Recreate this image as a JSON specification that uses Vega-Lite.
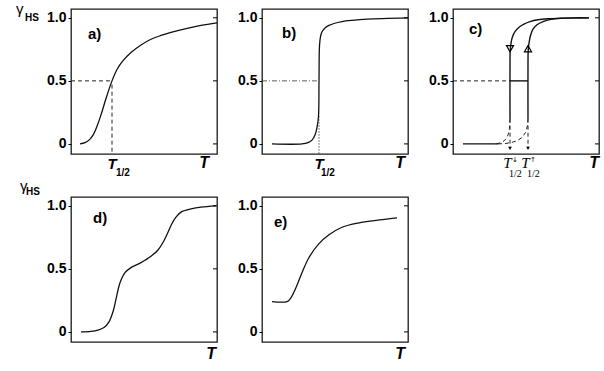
{
  "$schema": "https://vega.github.io/schema/vega-lite/v6.json",
  "padding": {"left": 15, "top": 1, "right": 0, "bottom": 0},
  "background": "white",
  "config": {
    "view": {"stroke": "#1a1a1a", "strokeWidth": 1.3},
    "font": "Liberation Sans",
    "line": {"color": "#111"},
    "text": {"color": "#000", "font": "Liberation Sans"},
    "axisY": {"labelExpr": "datum.value == 0 ? '0' : format(datum.value, '.1f')", "labelFont": "Liberation Sans", "labelFontWeight": "bold", "labelFontSize": 14, "labelColor": "#000", "tickSize": 3, "tickColor": "#000", "labelPadding": 2, "domain": false, "grid": false, "title": null}
  },
  "data": {"values": [
    {"p":"a","k":"solid","s":"a1","i":0,"x":9,"y":0},
    {"p":"a","k":"solid","s":"a1","i":1,"x":14,"y":0.01},
    {"p":"a","k":"solid","s":"a1","i":2,"x":18,"y":0.03},
    {"p":"a","k":"solid","s":"a1","i":3,"x":22,"y":0.07},
    {"p":"a","k":"solid","s":"a1","i":4,"x":26,"y":0.14},
    {"p":"a","k":"solid","s":"a1","i":5,"x":30,"y":0.23},
    {"p":"a","k":"solid","s":"a1","i":6,"x":35,"y":0.36},
    {"p":"a","k":"solid","s":"a1","i":7,"x":41,"y":0.5},
    {"p":"a","k":"solid","s":"a1","i":8,"x":46,"y":0.59},
    {"p":"a","k":"solid","s":"a1","i":9,"x":52,"y":0.66},
    {"p":"a","k":"solid","s":"a1","i":10,"x":60,"y":0.725},
    {"p":"a","k":"solid","s":"a1","i":11,"x":70,"y":0.785},
    {"p":"a","k":"solid","s":"a1","i":12,"x":80,"y":0.83},
    {"p":"a","k":"solid","s":"a1","i":13,"x":90,"y":0.86},
    {"p":"a","k":"solid","s":"a1","i":14,"x":100,"y":0.885},
    {"p":"a","k":"solid","s":"a1","i":15,"x":115,"y":0.915},
    {"p":"a","k":"solid","s":"a1","i":16,"x":130,"y":0.94},
    {"p":"a","k":"solid","s":"a1","i":17,"x":146,"y":0.96},
    {"p":"a","k":"dash","s":"a2","i":0,"x":0,"y":0.5},
    {"p":"a","k":"dash","s":"a2","i":1,"x":41,"y":0.5},
    {"p":"a","k":"dash","s":"a3","i":0,"x":41,"y":0.47},
    {"p":"a","k":"dash","s":"a3","i":1,"x":41,"y":-0.08},

    {"p":"b","k":"solid","s":"b1","i":0,"x":10,"y":0},
    {"p":"b","k":"solid","s":"b1","i":1,"x":40,"y":0},
    {"p":"b","k":"solid","s":"b1","i":2,"x":46,"y":0.01},
    {"p":"b","k":"solid","s":"b1","i":3,"x":50,"y":0.03},
    {"p":"b","k":"solid","s":"b1","i":4,"x":53,"y":0.07},
    {"p":"b","k":"solid","s":"b1","i":5,"x":55,"y":0.13},
    {"p":"b","k":"solid","s":"b1","i":6,"x":56.5,"y":0.22},
    {"p":"b","k":"solid","s":"b1","i":7,"x":57,"y":0.5},
    {"p":"b","k":"solid","s":"b1","i":8,"x":57.5,"y":0.78},
    {"p":"b","k":"solid","s":"b1","i":9,"x":58.5,"y":0.85},
    {"p":"b","k":"solid","s":"b1","i":10,"x":60,"y":0.89},
    {"p":"b","k":"solid","s":"b1","i":11,"x":63,"y":0.92},
    {"p":"b","k":"solid","s":"b1","i":12,"x":67,"y":0.94},
    {"p":"b","k":"solid","s":"b1","i":13,"x":72,"y":0.955},
    {"p":"b","k":"solid","s":"b1","i":14,"x":80,"y":0.97},
    {"p":"b","k":"solid","s":"b1","i":15,"x":90,"y":0.98},
    {"p":"b","k":"solid","s":"b1","i":16,"x":105,"y":0.99},
    {"p":"b","k":"solid","s":"b1","i":17,"x":146,"y":1.0},
    {"p":"b","k":"dashdot","s":"b2","i":0,"x":0,"y":0.5},
    {"p":"b","k":"dashdot","s":"b2","i":1,"x":57,"y":0.5},
    {"p":"b","k":"dot","s":"b3","i":0,"x":57,"y":0.22},
    {"p":"b","k":"dot","s":"b3","i":1,"x":57,"y":-0.08},

    {"p":"c","k":"solid","s":"c1","i":0,"x":136,"y":1.0},
    {"p":"c","k":"solid","s":"c1","i":1,"x":110,"y":0.998},
    {"p":"c","k":"solid","s":"c1","i":2,"x":95,"y":0.993},
    {"p":"c","k":"solid","s":"c1","i":3,"x":85,"y":0.985},
    {"p":"c","k":"solid","s":"c1","i":4,"x":77,"y":0.97},
    {"p":"c","k":"solid","s":"c1","i":5,"x":71,"y":0.95},
    {"p":"c","k":"solid","s":"c1","i":6,"x":66,"y":0.925},
    {"p":"c","k":"solid","s":"c1","i":7,"x":62,"y":0.89},
    {"p":"c","k":"solid","s":"c1","i":8,"x":59.5,"y":0.85},
    {"p":"c","k":"solid","s":"c1","i":9,"x":58,"y":0.8},
    {"p":"c","k":"solid","s":"c1","i":10,"x":57.2,"y":0.74},
    {"p":"c","k":"solid","s":"c1","i":11,"x":57,"y":0.65},
    {"p":"c","k":"solid","s":"c1","i":12,"x":57,"y":0.2},
    {"p":"c","k":"dash","s":"c2","i":0,"x":57,"y":0.2},
    {"p":"c","k":"dash","s":"c2","i":1,"x":56.5,"y":0.12},
    {"p":"c","k":"dash","s":"c2","i":2,"x":55,"y":0.07},
    {"p":"c","k":"dash","s":"c2","i":3,"x":52.5,"y":0.035},
    {"p":"c","k":"dash","s":"c2","i":4,"x":49,"y":0.012},
    {"p":"c","k":"dash","s":"c2","i":5,"x":44,"y":0.002},
    {"p":"c","k":"dash","s":"c2","i":6,"x":40,"y":0},
    {"p":"c","k":"solid","s":"c3","i":0,"x":10,"y":0},
    {"p":"c","k":"solid","s":"c3","i":1,"x":45,"y":0},
    {"p":"c","k":"dash","s":"c4","i":0,"x":45,"y":0},
    {"p":"c","k":"dash","s":"c4","i":1,"x":52,"y":0.003},
    {"p":"c","k":"dash","s":"c4","i":2,"x":58,"y":0.01},
    {"p":"c","k":"dash","s":"c4","i":3,"x":64,"y":0.025},
    {"p":"c","k":"dash","s":"c4","i":4,"x":69,"y":0.05},
    {"p":"c","k":"dash","s":"c4","i":5,"x":72.5,"y":0.09},
    {"p":"c","k":"dash","s":"c4","i":6,"x":74.3,"y":0.14},
    {"p":"c","k":"dash","s":"c4","i":7,"x":75,"y":0.2},
    {"p":"c","k":"solid","s":"c5","i":0,"x":75,"y":0.2},
    {"p":"c","k":"solid","s":"c5","i":1,"x":75,"y":0.65},
    {"p":"c","k":"solid","s":"c5","i":2,"x":75.2,"y":0.74},
    {"p":"c","k":"solid","s":"c5","i":3,"x":76,"y":0.8},
    {"p":"c","k":"solid","s":"c5","i":4,"x":77.5,"y":0.86},
    {"p":"c","k":"solid","s":"c5","i":5,"x":80,"y":0.91},
    {"p":"c","k":"solid","s":"c5","i":6,"x":84,"y":0.945},
    {"p":"c","k":"solid","s":"c5","i":7,"x":90,"y":0.97},
    {"p":"c","k":"solid","s":"c5","i":8,"x":98,"y":0.988},
    {"p":"c","k":"solid","s":"c5","i":9,"x":108,"y":0.997},
    {"p":"c","k":"solid","s":"c5","i":10,"x":120,"y":1.0},
    {"p":"c","k":"solid","s":"c5","i":11,"x":136,"y":1.0},
    {"p":"c","k":"dash","s":"c6","i":0,"x":0,"y":0.5},
    {"p":"c","k":"dash","s":"c6","i":1,"x":57,"y":0.5},
    {"p":"c","k":"solid","s":"c7","i":0,"x":57,"y":0.5},
    {"p":"c","k":"solid","s":"c7","i":1,"x":75,"y":0.5},
    {"p":"c","k":"dash","s":"c8","i":0,"x":57,"y":0.2},
    {"p":"c","k":"dash","s":"c8","i":1,"x":57,"y":-0.03},
    {"p":"c","k":"dash","s":"c9","i":0,"x":75,"y":0.2},
    {"p":"c","k":"dash","s":"c9","i":1,"x":75,"y":-0.03},
    {"p":"c","k":"tri","x":57,"y":0.755,"t":"triangle-down"},
    {"p":"c","k":"tri","x":75,"y":0.755,"t":"triangle-up"},
    {"p":"c","k":"arr","x":57,"y":-0.035},
    {"p":"c","k":"arr","x":75,"y":-0.035},

    {"p":"d","k":"solid","s":"d1","i":0,"x":10,"y":0},
    {"p":"d","k":"solid","s":"d1","i":1,"x":20,"y":0.005},
    {"p":"d","k":"solid","s":"d1","i":2,"x":27,"y":0.015},
    {"p":"d","k":"solid","s":"d1","i":3,"x":33,"y":0.035},
    {"p":"d","k":"solid","s":"d1","i":4,"x":38,"y":0.08},
    {"p":"d","k":"solid","s":"d1","i":5,"x":42,"y":0.16},
    {"p":"d","k":"solid","s":"d1","i":6,"x":45,"y":0.26},
    {"p":"d","k":"solid","s":"d1","i":7,"x":49,"y":0.39},
    {"p":"d","k":"solid","s":"d1","i":8,"x":54,"y":0.47},
    {"p":"d","k":"solid","s":"d1","i":9,"x":60,"y":0.51},
    {"p":"d","k":"solid","s":"d1","i":10,"x":70,"y":0.55},
    {"p":"d","k":"solid","s":"d1","i":11,"x":80,"y":0.6},
    {"p":"d","k":"solid","s":"d1","i":12,"x":87,"y":0.65},
    {"p":"d","k":"solid","s":"d1","i":13,"x":92,"y":0.71},
    {"p":"d","k":"solid","s":"d1","i":14,"x":97,"y":0.79},
    {"p":"d","k":"solid","s":"d1","i":15,"x":101,"y":0.86},
    {"p":"d","k":"solid","s":"d1","i":16,"x":105,"y":0.91},
    {"p":"d","k":"solid","s":"d1","i":17,"x":110,"y":0.95},
    {"p":"d","k":"solid","s":"d1","i":18,"x":120,"y":0.975},
    {"p":"d","k":"solid","s":"d1","i":19,"x":130,"y":0.99},
    {"p":"d","k":"solid","s":"d1","i":20,"x":145,"y":1.0},

    {"p":"e","k":"solid","s":"e1","i":0,"x":10,"y":0.24},
    {"p":"e","k":"solid","s":"e1","i":1,"x":25,"y":0.24},
    {"p":"e","k":"solid","s":"e1","i":2,"x":28,"y":0.26},
    {"p":"e","k":"solid","s":"e1","i":3,"x":31,"y":0.3},
    {"p":"e","k":"solid","s":"e1","i":4,"x":35,"y":0.37},
    {"p":"e","k":"solid","s":"e1","i":5,"x":40,"y":0.47},
    {"p":"e","k":"solid","s":"e1","i":6,"x":47,"y":0.59},
    {"p":"e","k":"solid","s":"e1","i":7,"x":57,"y":0.7},
    {"p":"e","k":"solid","s":"e1","i":8,"x":67,"y":0.77},
    {"p":"e","k":"solid","s":"e1","i":9,"x":80,"y":0.83},
    {"p":"e","k":"solid","s":"e1","i":10,"x":97,"y":0.865},
    {"p":"e","k":"solid","s":"e1","i":11,"x":114,"y":0.885},
    {"p":"e","k":"solid","s":"e1","i":12,"x":135,"y":0.905},

    {"p":"a","k":"rt","x":142,"x2":146,"y":0},
    {"p":"a","k":"rt","x":142,"x2":146,"y":0.5},
    {"p":"a","k":"rt","x":142,"x2":146,"y":1},
    {"p":"b","k":"rt","x":142,"x2":146,"y":0},
    {"p":"b","k":"rt","x":142,"x2":146,"y":0.5},
    {"p":"b","k":"rt","x":142,"x2":146,"y":1},
    {"p":"c","k":"rt","x":142,"x2":146,"y":0},
    {"p":"c","k":"rt","x":142,"x2":146,"y":0.5},
    {"p":"c","k":"rt","x":142,"x2":146,"y":1},
    {"p":"d","k":"rt","x":142,"x2":146,"y":0},
    {"p":"d","k":"rt","x":142,"x2":146,"y":0.5},
    {"p":"d","k":"rt","x":142,"x2":146,"y":1},
    {"p":"e","k":"rt","x":142,"x2":146,"y":0},
    {"p":"e","k":"rt","x":142,"x2":146,"y":0.5},
    {"p":"e","k":"rt","x":142,"x2":146,"y":1},

    {"p":"a","k":"lab","x":17,"y":0.87,"t":"a)"},
    {"p":"b","k":"lab","x":20,"y":0.88,"t":"b)"},
    {"p":"c","k":"lab","x":16,"y":0.91,"t":"c)"},
    {"p":"d","k":"lab","x":22,"y":0.9,"t":"d)"},
    {"p":"e","k":"lab","x":12,"y":0.875,"t":"e)"},
    {"p":"a","k":"gam","x":-55,"y":1.03,"t":"γ"},
    {"p":"a","k":"hs","x":-46,"y":0.975,"t":"HS"},
    {"p":"d","k":"gam","x":-51,"y":1.12,"t":"γ"},
    {"p":"d","k":"hs","x":-45,"y":1.085,"t":"HS"},
    {"p":"a","k":"Tb","x":41,"y":-0.2,"t":"T"},
    {"p":"a","k":"sub","x":45,"y":-0.255,"t":"1/2"},
    {"p":"b","k":"Tb","x":57,"y":-0.2,"t":"T"},
    {"p":"b","k":"sub","x":59,"y":-0.255,"t":"1/2"},
    {"p":"a","k":"Tx","x":138,"y":-0.19,"t":"T"},
    {"p":"b","k":"Tx","x":143,"y":-0.19,"t":"T"},
    {"p":"c","k":"Tx","x":146,"y":-0.19,"t":"T"},
    {"p":"d","k":"Tx","x":145,"y":-0.215,"t":"T"},
    {"p":"e","k":"Tx","x":143,"y":-0.215,"t":"T"},
    {"p":"c","k":"Ts","x":54.5,"y":-0.19,"t":"T"},
    {"p":"c","k":"Ts","x":72.5,"y":-0.19,"t":"T"},
    {"p":"c","k":"ssub","x":56,"y":-0.26,"t":"1/2"},
    {"p":"c","k":"ssub","x":74,"y":-0.26,"t":"1/2"},
    {"p":"c","k":"sarr","x":59,"y":-0.14,"t":"↓"},
    {"p":"c","k":"sarr","x":77,"y":-0.14,"t":"↑"}
  ]},
  "columns": 3,
  "spacing": {"row": 43, "column": 45},
  "bounds": "flush",
  "concat": [
    {
      "width": 146, "height": 145,
      "transform": [{"filter": "datum.p == 'a'"}],
      "layer": [
        {"transform": [{"filter": "datum.k == 'solid'"}],
         "mark": {"type": "line", "interpolate": "catmull-rom", "strokeWidth": 1.3},
         "encoding": {
           "x": {"field": "x", "type": "quantitative", "scale": {"domain": [0, 146], "nice": false, "zero": false}, "axis": null},
           "y": {"field": "y", "type": "quantitative", "scale": {"domain": [-0.08, 1.07], "nice": false, "zero": false}, "title": null, "axis": {"values": [0, 0.5, 1]}},
           "detail": {"field": "s"}, "order": {"field": "i"}}},
        {"transform": [{"filter": "datum.k == 'dash'"}],
         "mark": {"type": "line", "color": "#222", "strokeWidth": 1, "strokeDash": [4, 3]},
         "encoding": {"x": {"field": "x", "type": "quantitative", "axis": null}, "y": {"field": "y", "type": "quantitative", "title": null}, "detail": {"field": "s"}, "order": {"field": "i"}}},
        {"transform": [{"filter": "datum.k == 'rt'"}],
         "mark": {"type": "rule", "color": "#000", "strokeWidth": 1},
         "encoding": {"x": {"field": "x", "type": "quantitative", "axis": null}, "x2": {"field": "x2"}, "y": {"field": "y", "type": "quantitative", "title": null}}},
        {"transform": [{"filter": "datum.k == 'lab'"}],
         "mark": {"type": "text", "fontWeight": "bold", "fontSize": 15, "align": "left", "baseline": "middle"},
         "encoding": {"x": {"field": "x", "type": "quantitative", "axis": null}, "y": {"field": "y", "type": "quantitative", "title": null}, "text": {"field": "t"}}},
        {"transform": [{"filter": "datum.k == 'Tx'"}],
         "mark": {"type": "text", "fontWeight": "bold", "fontStyle": "italic", "fontSize": 16, "align": "right", "baseline": "alphabetic"},
         "encoding": {"x": {"field": "x", "type": "quantitative", "axis": null}, "y": {"field": "y", "type": "quantitative", "title": null}, "text": {"field": "t"}}},
        {"transform": [{"filter": "datum.k == 'gam'"}],
         "mark": {"type": "text", "fontSize": 15, "align": "left", "baseline": "alphabetic"},
         "encoding": {"x": {"field": "x", "type": "quantitative", "axis": null}, "y": {"field": "y", "type": "quantitative", "title": null}, "text": {"field": "t"}}},
        {"transform": [{"filter": "datum.k == 'hs'"}],
         "mark": {"type": "text", "fontWeight": "bold", "fontSize": 10, "align": "left", "baseline": "alphabetic"},
         "encoding": {"x": {"field": "x", "type": "quantitative", "axis": null}, "y": {"field": "y", "type": "quantitative", "title": null}, "text": {"field": "t"}}},
        {"transform": [{"filter": "datum.k == 'Tb'"}],
         "mark": {"type": "text", "fontWeight": "bold", "fontStyle": "italic", "fontSize": 15, "align": "center", "baseline": "alphabetic"},
         "encoding": {"x": {"field": "x", "type": "quantitative", "axis": null}, "y": {"field": "y", "type": "quantitative", "title": null}, "text": {"field": "t"}}},
        {"transform": [{"filter": "datum.k == 'sub'"}],
         "mark": {"type": "text", "fontWeight": "bold", "fontSize": 10, "align": "left", "baseline": "alphabetic"},
         "encoding": {"x": {"field": "x", "type": "quantitative", "axis": null}, "y": {"field": "y", "type": "quantitative", "title": null}, "text": {"field": "t"}}}
      ]
    },
    {
      "width": 146, "height": 145,
      "transform": [{"filter": "datum.p == 'b'"}],
      "layer": [
        {"transform": [{"filter": "datum.k == 'solid'"}],
         "mark": {"type": "line", "interpolate": "catmull-rom", "strokeWidth": 1.3},
         "encoding": {
           "x": {"field": "x", "type": "quantitative", "scale": {"domain": [0, 146], "nice": false, "zero": false}, "axis": null},
           "y": {"field": "y", "type": "quantitative", "scale": {"domain": [-0.08, 1.07], "nice": false, "zero": false}, "title": null, "axis": {"values": [0, 0.5, 1]}},
           "detail": {"field": "s"}, "order": {"field": "i"}}},
        {"transform": [{"filter": "datum.k == 'dashdot'"}],
         "mark": {"type": "line", "color": "#333", "strokeWidth": 0.8, "strokeDash": [5, 2, 1, 2]},
         "encoding": {"x": {"field": "x", "type": "quantitative", "axis": null}, "y": {"field": "y", "type": "quantitative", "title": null}, "detail": {"field": "s"}, "order": {"field": "i"}}},
        {"transform": [{"filter": "datum.k == 'dot'"}],
         "mark": {"type": "line", "color": "#333", "strokeWidth": 0.8, "strokeDash": [1.5, 1.5]},
         "encoding": {"x": {"field": "x", "type": "quantitative", "axis": null}, "y": {"field": "y", "type": "quantitative", "title": null}, "detail": {"field": "s"}, "order": {"field": "i"}}},
        {"transform": [{"filter": "datum.k == 'rt'"}],
         "mark": {"type": "rule", "color": "#000", "strokeWidth": 1},
         "encoding": {"x": {"field": "x", "type": "quantitative", "axis": null}, "x2": {"field": "x2"}, "y": {"field": "y", "type": "quantitative", "title": null}}},
        {"transform": [{"filter": "datum.k == 'lab'"}],
         "mark": {"type": "text", "fontWeight": "bold", "fontSize": 15, "align": "left", "baseline": "middle"},
         "encoding": {"x": {"field": "x", "type": "quantitative", "axis": null}, "y": {"field": "y", "type": "quantitative", "title": null}, "text": {"field": "t"}}},
        {"transform": [{"filter": "datum.k == 'Tx'"}],
         "mark": {"type": "text", "fontWeight": "bold", "fontStyle": "italic", "fontSize": 16, "align": "right", "baseline": "alphabetic"},
         "encoding": {"x": {"field": "x", "type": "quantitative", "axis": null}, "y": {"field": "y", "type": "quantitative", "title": null}, "text": {"field": "t"}}},
        {"transform": [{"filter": "datum.k == 'Tb'"}],
         "mark": {"type": "text", "fontWeight": "bold", "fontStyle": "italic", "fontSize": 15, "align": "center", "baseline": "alphabetic"},
         "encoding": {"x": {"field": "x", "type": "quantitative", "axis": null}, "y": {"field": "y", "type": "quantitative", "title": null}, "text": {"field": "t"}}},
        {"transform": [{"filter": "datum.k == 'sub'"}],
         "mark": {"type": "text", "fontWeight": "bold", "fontSize": 10, "align": "left", "baseline": "alphabetic"},
         "encoding": {"x": {"field": "x", "type": "quantitative", "axis": null}, "y": {"field": "y", "type": "quantitative", "title": null}, "text": {"field": "t"}}}
      ]
    },
    {
      "width": 146, "height": 145,
      "transform": [{"filter": "datum.p == 'c'"}],
      "layer": [
        {"transform": [{"filter": "datum.k == 'solid'"}],
         "mark": {"type": "line", "interpolate": "catmull-rom", "strokeWidth": 1.4},
         "encoding": {
           "x": {"field": "x", "type": "quantitative", "scale": {"domain": [0, 146], "nice": false, "zero": false}, "axis": null},
           "y": {"field": "y", "type": "quantitative", "scale": {"domain": [-0.08, 1.07], "nice": false, "zero": false}, "title": null, "axis": {"values": [0, 0.5, 1]}},
           "detail": {"field": "s"}, "order": {"field": "i"}}},
        {"transform": [{"filter": "datum.k == 'dash'"}],
         "mark": {"type": "line", "color": "#222", "strokeWidth": 1, "strokeDash": [4, 3]},
         "encoding": {"x": {"field": "x", "type": "quantitative", "axis": null}, "y": {"field": "y", "type": "quantitative", "title": null}, "detail": {"field": "s"}, "order": {"field": "i"}}},
        {"transform": [{"filter": "datum.k == 'rt'"}],
         "mark": {"type": "rule", "color": "#000", "strokeWidth": 1},
         "encoding": {"x": {"field": "x", "type": "quantitative", "axis": null}, "x2": {"field": "x2"}, "y": {"field": "y", "type": "quantitative", "title": null}}},
        {"transform": [{"filter": "datum.k == 'tri'"}],
         "mark": {"type": "point", "filled": false, "color": "#000", "strokeWidth": 1.2, "size": 50, "opacity": 1},
         "encoding": {"x": {"field": "x", "type": "quantitative", "axis": null}, "y": {"field": "y", "type": "quantitative", "title": null}, "shape": {"field": "t", "type": "nominal", "scale": null}}},
        {"transform": [{"filter": "datum.k == 'arr'"}],
         "mark": {"type": "point", "filled": true, "shape": "triangle-down", "color": "#000", "size": 14, "opacity": 1},
         "encoding": {"x": {"field": "x", "type": "quantitative", "axis": null}, "y": {"field": "y", "type": "quantitative", "title": null}}},
        {"transform": [{"filter": "datum.k == 'lab'"}],
         "mark": {"type": "text", "fontWeight": "bold", "fontSize": 15, "align": "left", "baseline": "middle"},
         "encoding": {"x": {"field": "x", "type": "quantitative", "axis": null}, "y": {"field": "y", "type": "quantitative", "title": null}, "text": {"field": "t"}}},
        {"transform": [{"filter": "datum.k == 'Tx'"}],
         "mark": {"type": "text", "fontWeight": "bold", "fontStyle": "italic", "fontSize": 16, "align": "right", "baseline": "alphabetic"},
         "encoding": {"x": {"field": "x", "type": "quantitative", "axis": null}, "y": {"field": "y", "type": "quantitative", "title": null}, "text": {"field": "t"}}},
        {"transform": [{"filter": "datum.k == 'Ts'"}],
         "mark": {"type": "text", "font": "Liberation Serif", "fontStyle": "italic", "fontSize": 15, "align": "center", "baseline": "alphabetic"},
         "encoding": {"x": {"field": "x", "type": "quantitative", "axis": null}, "y": {"field": "y", "type": "quantitative", "title": null}, "text": {"field": "t"}}},
        {"transform": [{"filter": "datum.k == 'ssub'"}],
         "mark": {"type": "text", "font": "Liberation Serif", "fontSize": 10, "align": "left", "baseline": "alphabetic"},
         "encoding": {"x": {"field": "x", "type": "quantitative", "axis": null}, "y": {"field": "y", "type": "quantitative", "title": null}, "text": {"field": "t"}}},
        {"transform": [{"filter": "datum.k == 'sarr'"}],
         "mark": {"type": "text", "font": "DejaVu Sans", "fontSize": 7, "align": "left", "baseline": "alphabetic"},
         "encoding": {"x": {"field": "x", "type": "quantitative", "axis": null}, "y": {"field": "y", "type": "quantitative", "title": null}, "text": {"field": "t"}}}
      ]
    },
    {
      "width": 146, "height": 145,
      "transform": [{"filter": "datum.p == 'd'"}],
      "layer": [
        {"transform": [{"filter": "datum.k == 'solid'"}],
         "mark": {"type": "line", "interpolate": "catmull-rom", "strokeWidth": 1.3},
         "encoding": {
           "x": {"field": "x", "type": "quantitative", "scale": {"domain": [0, 146], "nice": false, "zero": false}, "axis": null},
           "y": {"field": "y", "type": "quantitative", "scale": {"domain": [-0.08, 1.07], "nice": false, "zero": false}, "title": null, "axis": {"values": [0, 0.5, 1]}},
           "detail": {"field": "s"}, "order": {"field": "i"}}},
        {"transform": [{"filter": "datum.k == 'rt'"}],
         "mark": {"type": "rule", "color": "#000", "strokeWidth": 1},
         "encoding": {"x": {"field": "x", "type": "quantitative", "axis": null}, "x2": {"field": "x2"}, "y": {"field": "y", "type": "quantitative", "title": null}}},
        {"transform": [{"filter": "datum.k == 'lab'"}],
         "mark": {"type": "text", "fontWeight": "bold", "fontSize": 15, "align": "left", "baseline": "middle"},
         "encoding": {"x": {"field": "x", "type": "quantitative", "axis": null}, "y": {"field": "y", "type": "quantitative", "title": null}, "text": {"field": "t"}}},
        {"transform": [{"filter": "datum.k == 'Tx'"}],
         "mark": {"type": "text", "fontWeight": "bold", "fontStyle": "italic", "fontSize": 16, "align": "right", "baseline": "alphabetic"},
         "encoding": {"x": {"field": "x", "type": "quantitative", "axis": null}, "y": {"field": "y", "type": "quantitative", "title": null}, "text": {"field": "t"}}},
        {"transform": [{"filter": "datum.k == 'gam'"}],
         "mark": {"type": "text", "fontSize": 15, "align": "left", "baseline": "alphabetic"},
         "encoding": {"x": {"field": "x", "type": "quantitative", "axis": null}, "y": {"field": "y", "type": "quantitative", "title": null}, "text": {"field": "t"}}},
        {"transform": [{"filter": "datum.k == 'hs'"}],
         "mark": {"type": "text", "fontWeight": "bold", "fontSize": 10, "align": "left", "baseline": "alphabetic"},
         "encoding": {"x": {"field": "x", "type": "quantitative", "axis": null}, "y": {"field": "y", "type": "quantitative", "title": null}, "text": {"field": "t"}}}
      ]
    },
    {
      "width": 146, "height": 145,
      "transform": [{"filter": "datum.p == 'e'"}],
      "layer": [
        {"transform": [{"filter": "datum.k == 'solid'"}],
         "mark": {"type": "line", "interpolate": "catmull-rom", "strokeWidth": 1.3},
         "encoding": {
           "x": {"field": "x", "type": "quantitative", "scale": {"domain": [0, 146], "nice": false, "zero": false}, "axis": null},
           "y": {"field": "y", "type": "quantitative", "scale": {"domain": [-0.08, 1.07], "nice": false, "zero": false}, "title": null, "axis": {"values": [0, 0.5, 1]}},
           "detail": {"field": "s"}, "order": {"field": "i"}}},
        {"transform": [{"filter": "datum.k == 'rt'"}],
         "mark": {"type": "rule", "color": "#000", "strokeWidth": 1},
         "encoding": {"x": {"field": "x", "type": "quantitative", "axis": null}, "x2": {"field": "x2"}, "y": {"field": "y", "type": "quantitative", "title": null}}},
        {"transform": [{"filter": "datum.k == 'lab'"}],
         "mark": {"type": "text", "fontWeight": "bold", "fontSize": 15, "align": "left", "baseline": "middle"},
         "encoding": {"x": {"field": "x", "type": "quantitative", "axis": null}, "y": {"field": "y", "type": "quantitative", "title": null}, "text": {"field": "t"}}},
        {"transform": [{"filter": "datum.k == 'Tx'"}],
         "mark": {"type": "text", "fontWeight": "bold", "fontStyle": "italic", "fontSize": 16, "align": "right", "baseline": "alphabetic"},
         "encoding": {"x": {"field": "x", "type": "quantitative", "axis": null}, "y": {"field": "y", "type": "quantitative", "title": null}, "text": {"field": "t"}}}
      ]
    }
  ]
}
